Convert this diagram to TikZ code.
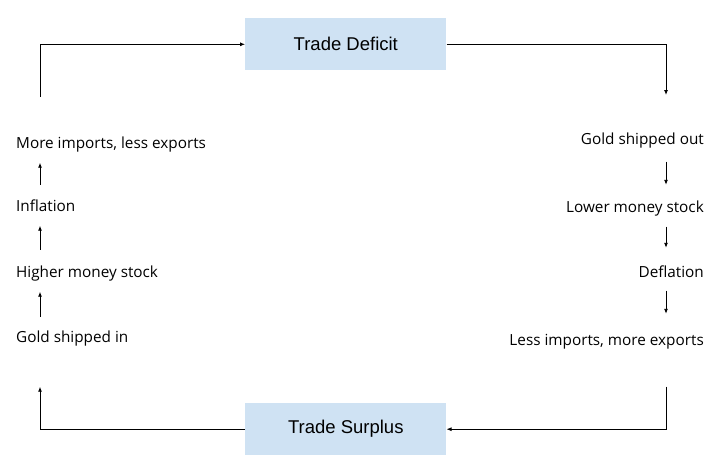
\documentclass[tikz,border=0pt]{standalone}
\usepackage{fontspec}
\setmainfont{Open Sans}
\newfontfamily\boxfont{Liberation Sans}
\usetikzlibrary{arrows.meta, calc}
\definecolor{boxblue}{HTML}{CFE2F3}

\begin{document}
\begin{tikzpicture}[x=1pt, y=-1pt,
	arr/.style={line width=0.9pt, -{Latex[length=5pt, width=4pt]}},
	tradebox/.style={fill=boxblue, minimum width=201pt, minimum height=52pt, inner sep=0pt,
		font=\boxfont\fontsize{18.5}{21}\selectfont},
	step label/.style={inner sep=0pt, text height=11pt, text depth=3.5pt,
		font=\fontsize{15.3}{18}\selectfont}]
	\useasboundingbox (0,0) rectangle (720,471);
	\coordinate (lx) at (40,0);
	\coordinate (rx) at (666,0);
	\node [tradebox] (deficit) at (345.8,44.3) {Trade Deficit};
	\node [tradebox] (surplus) at (345.8,429.2) {Trade Surplus};
	% left column
	\node [step label, anchor=base west] (mil) at (16,148) {More imports, less exports};
	\node [step label, anchor=base west] (infl) at (16,211) {Inflation};
	\node [step label, anchor=base west] (hms) at (16,277) {Higher money stock};
	\node [step label, anchor=base west] (gin) at (16,342) {Gold shipped in};
	% right column
	\node [step label, anchor=base east] (gso) at (704,144) {Gold shipped out};
	\node [step label, anchor=base east] (lms) at (704,212) {Lower money stock};
	\node [step label, anchor=base east] (defl) at (704,277) {Deflation};
	\node [step label, anchor=base east] (lim) at (704,345) {Less imports, more exports};
	\draw [arr, shorten <=14pt, shorten >=11pt] (gin.north -| lx) -- (hms.south -| lx);
	\draw [arr, shorten <=16pt, shorten >=11pt] (hms.north -| lx) -- (infl.south -| lx);
	\draw [arr, shorten <=15pt, shorten >=11pt] (infl.north -| lx) -- (mil.south -| lx);
	\draw [arr, shorten <=14pt, shorten >=16pt] (gso.south -| rx) -- (lms.north -| rx);
	\draw [arr, shorten <=11pt, shorten >=18pt] (lms.south -| rx) -- (defl.north -| rx);
	\draw [arr, shorten <=10pt, shorten >=20pt] (defl.south -| rx) -- (lim.north -| rx);
	% the loop round the boxes
	\coordinate (lt) at (40,96.7);
	\coordinate (rt) at (666,95);
	\coordinate (rb) at (666,386.7);
	\coordinate (lb) at (40,386.7);
	\draw [arr] (lt) |- (deficit);
	\draw [arr] (deficit) -| (rt);
	\draw [arr] (rb) |- (surplus);
	\draw [arr] (surplus) -| (lb);
\end{tikzpicture}
\end{document}
